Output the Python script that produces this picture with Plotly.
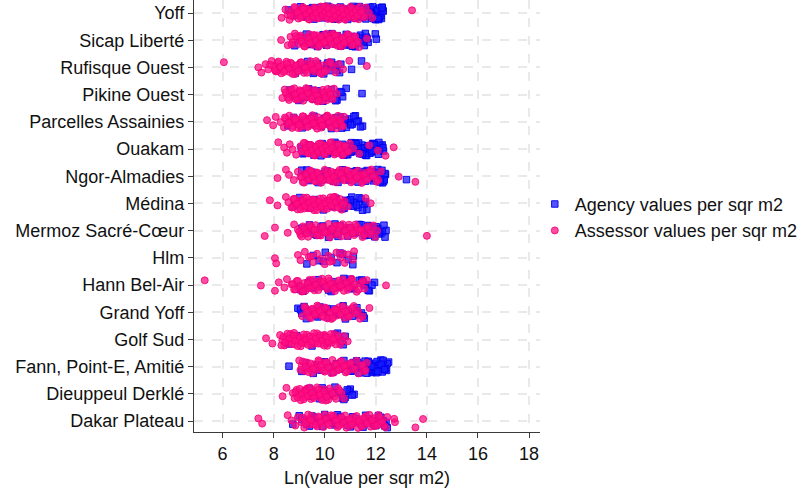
import plotly.graph_objects as go

# Districts, listed from top to bottom of the chart
DISTRICTS = [
    "Yoff", "Sicap Liberté", "Rufisque Ouest", "Pikine Ouest",
    "Parcelles Assainies", "Ouakam", "Ngor-Almadies", "Médina",
    "Mermoz Sacré-Cœur", "Hlm", "Hann Bel-Air", "Grand Yoff",
    "Golf Sud", "Fann, Point-E, Amitié", "Dieuppeul Derklé", "Dakar Plateau",
]

# Ln(value per sqr m2): agency listings and assessor valuations per district
yoff_agency = [8.58, 8.83, 9.05, 9.21, 9.30, 9.42, 9.47, 9.58, 9.63, 9.71, 9.80, 9.86, 9.92, 10.01, 10.07, 10.12,
               10.18, 10.26, 10.31, 10.37, 10.44, 10.49, 10.55, 10.61, 10.66, 10.72, 10.79, 10.83, 10.90, 10.94,
               11.02, 11.08, 11.13, 11.19, 11.24, 11.31, 11.36, 11.42, 11.47, 11.53, 11.58, 11.61, 11.66, 11.72,
               11.77, 11.81, 11.86, 11.90, 11.95, 12.00, 12.04, 12.09, 12.13, 12.18, 12.22, 12.27, 11.69, 11.88,
               12.02, 12.15, 11.55, 10.98, 10.40, 9.95, 9.16, 9.52, 9.76, 10.22, 10.58, 10.87, 11.11, 11.28,
               11.44, 11.63, 11.79, 11.92, 12.06, 12.20, 12.25, 11.74, 11.98, 11.50, 11.84, 12.11, 12.29, 11.97,
               12.24, 11.67, 12.08]
yoff_assessor = [8.31, 8.46, 8.55, 8.62, 8.70, 8.77, 8.84, 8.90, 8.97, 9.03, 9.08, 9.14, 9.19, 9.25, 9.31, 9.36,
                 9.41, 9.47, 9.52, 9.58, 9.63, 9.68, 9.74, 9.79, 9.85, 9.90, 9.95, 10.01, 10.06, 10.12, 10.17,
                 10.22, 10.28, 10.33, 10.39, 10.44, 10.50, 10.55, 10.61, 10.66, 10.72, 10.78, 10.83, 10.89, 10.95,
                 11.01, 11.07, 11.13, 11.19, 11.26, 11.33, 11.41, 11.50, 11.61, 11.73, 11.86, 9.35, 9.72, 10.05,
                 10.48, 10.86, 9.12, 9.88, 10.25, 13.42, 8.66, 8.81, 8.93, 9.06, 9.17, 9.28, 9.39, 9.44, 9.55,
                 9.61, 9.66, 9.77, 9.83, 9.93, 9.98, 10.03, 10.09, 10.14, 10.20, 10.31, 10.36, 10.42, 10.53,
                 10.58, 10.64, 10.69, 10.75, 10.81, 10.92, 10.98, 11.04, 11.10, 11.16, 11.22, 11.29, 11.37,
                 11.45, 11.55]

sicap_agency = [8.82, 9.01, 9.15, 9.28, 9.37, 9.46, 9.55, 9.63, 9.71, 9.78, 9.86, 9.93, 10.00, 10.07, 10.14, 10.21,
                10.28, 10.35, 10.42, 10.49, 10.56, 10.63, 10.70, 10.77, 10.84, 10.91, 10.98, 11.05, 11.12, 11.19,
                11.26, 11.33, 11.40, 11.47, 11.55, 11.63, 11.70, 11.98, 12.02, 9.42, 10.18, 10.66, 11.08, 11.36,
                9.60, 9.97, 10.39, 10.80, 11.23, 11.51, 11.59, 11.66]
sicap_assessor = [8.29, 8.55, 8.66, 8.74, 8.83, 8.91, 8.98, 9.05, 9.12, 9.19, 9.26, 9.33, 9.40, 9.47, 9.54, 9.61,
                  9.68, 9.75, 9.82, 9.89, 9.96, 10.03, 10.10, 10.17, 10.24, 10.31, 10.38, 10.45, 10.52, 10.59,
                  10.66, 10.73, 10.80, 10.88, 10.96, 11.05, 11.14, 11.24, 11.35, 11.65, 9.30, 9.71, 10.12, 10.50,
                  9.02, 9.93, 10.34, 10.84, 8.70, 8.87, 9.09, 9.22, 9.37, 9.44, 9.58, 9.65, 9.79, 9.85, 9.99,
                  10.07, 10.20, 10.28, 10.41, 10.48, 10.62, 10.70, 10.77, 10.92, 11.00, 11.10, 11.19, 11.30]

rufisque_agency = [8.62, 8.85, 9.04, 9.18, 9.33, 9.47, 9.60, 9.72, 9.85, 9.96, 10.08, 10.20, 10.27, 10.41, 10.58,
                   10.63, 11.05, 11.44, 9.25, 9.90, 10.12, 8.95, 9.55, 10.35, 10.48]
rufisque_assessor = [6.05, 7.40, 7.52, 7.68, 7.79, 7.92, 8.01, 8.08, 8.15, 8.22, 8.30, 8.36, 8.43, 8.50, 8.57, 8.63,
                     8.70, 8.77, 8.84, 8.91, 8.98, 9.05, 9.12, 9.19, 9.27, 9.35, 9.44, 9.52, 9.61, 9.70, 9.79,
                     9.88, 9.97, 10.06, 10.18, 10.31, 10.42, 10.55, 10.72, 10.96, 11.65, 8.12, 8.66, 9.40, 9.83,
                     7.86, 8.05, 8.19, 8.26, 8.40, 8.53, 8.60, 8.74, 8.88, 8.95, 9.09, 9.23, 9.31, 9.48, 9.57,
                     9.66, 9.75, 10.01, 10.24]

pikine_agency = [8.62, 8.81, 8.98, 9.12, 9.25, 9.37, 9.49, 9.60, 9.71, 9.82, 9.93, 10.04, 10.15, 10.26, 10.37,
                 10.48, 10.60, 10.70, 10.84, 11.46, 9.05, 9.55, 10.10, 10.43, 10.66]
pikine_assessor = [8.34, 8.43, 8.52, 8.60, 8.67, 8.74, 8.81, 8.88, 8.95, 9.02, 9.09, 9.16, 9.23, 9.30, 9.37, 9.44,
                   9.51, 9.58, 9.65, 9.72, 9.79, 9.86, 9.93, 10.00, 10.08, 10.17, 10.26, 10.36, 10.47, 8.85, 9.20,
                   9.55, 9.90, 8.47, 8.56, 8.70, 8.84, 8.92, 9.05, 9.13, 9.27, 9.34, 9.48, 9.62, 9.69, 9.76, 9.96,
                   10.04, 10.12, 10.22, 10.31]

parcelles_agency = [8.55, 8.78, 8.96, 9.12, 9.28, 9.43, 9.58, 9.72, 9.86, 10.00, 10.13, 10.26, 10.39, 10.50, 10.62,
                    10.73, 10.85, 10.96, 11.08, 11.20, 11.32, 11.48, 10.45, 10.92, 10.67, 10.80, 11.02, 11.14,
                    11.26, 11.40]
parcelles_assessor = [7.74, 7.98, 8.08, 8.27, 8.40, 8.47, 8.54, 8.61, 8.68, 8.75, 8.82, 8.89, 8.96, 9.03, 9.10,
                      9.17, 9.24, 9.31, 9.38, 9.45, 9.52, 9.59, 9.66, 9.73, 9.80, 9.87, 9.94, 10.01, 10.08, 10.15,
                      10.22, 10.30, 10.38, 10.47, 10.56, 10.66, 10.76, 8.70, 9.05, 9.40, 9.75, 10.10, 8.88, 9.62,
                      8.44, 8.58, 8.72, 8.85, 8.99, 9.13, 9.27, 9.35, 9.49, 9.56, 9.70, 9.84, 9.91, 10.05, 10.19,
                      10.26, 10.34, 10.43, 10.52, 10.61, 10.71]

ouakam_agency = [9.08, 9.22, 9.35, 9.47, 9.58, 9.69, 9.80, 9.90, 10.00, 10.10, 10.20, 10.30, 10.40, 10.50, 10.60,
                 10.70, 10.80, 10.90, 11.00, 11.10, 11.19, 11.28, 11.37, 11.46, 11.55, 11.64, 11.73, 11.82, 11.91,
                 12.00, 12.10, 12.20, 12.30, 11.05, 11.42, 11.68, 11.95, 12.15, 10.75, 11.25, 11.58, 11.88, 12.05,
                 9.15, 9.41, 9.63, 9.85, 10.05, 10.25, 10.45, 10.65, 10.85, 10.95, 11.14, 11.33, 11.51, 11.77,
                 12.25, 11.99, 11.60, 11.15, 11.02, 11.22, 11.31, 11.48, 11.70, 11.86, 12.12, 12.28, 11.38, 11.93]
ouakam_assessor = [8.18, 8.41, 8.52, 8.63, 8.74, 8.88, 9.05, 9.14, 9.22, 9.30, 9.38, 9.46, 9.54, 9.62, 9.70, 9.78,
                   9.86, 9.94, 10.02, 10.10, 10.18, 10.26, 10.34, 10.42, 10.50, 10.58, 10.67, 10.76, 10.86, 10.98,
                   11.12, 11.35, 11.74, 12.08, 12.38, 12.70, 9.40, 9.75, 10.05, 10.38, 10.70, 9.10, 9.18, 9.26,
                   9.34, 9.42, 9.50, 9.58, 9.66, 9.74, 9.82, 9.90, 9.98, 10.06, 10.14, 10.22, 10.30, 10.46, 10.54,
                   10.62, 10.72, 10.81, 10.92]

ngor_agency = [9.10, 9.24, 9.37, 9.50, 9.62, 9.74, 9.86, 9.98, 10.10, 10.22, 10.34, 10.46, 10.58, 10.70, 10.82,
               10.94, 11.06, 11.18, 11.30, 11.42, 11.54, 11.66, 11.78, 11.90, 12.02, 12.14, 12.26, 12.38, 13.20,
               11.85, 12.10, 12.30, 11.45, 10.60, 9.30, 9.56, 9.80, 10.04, 10.28, 10.52, 10.76, 11.00, 11.24,
               11.36, 11.60, 11.72, 11.96, 12.08, 12.20, 12.33, 11.50, 11.81, 12.17, 12.36, 11.93, 12.24]
ngor_assessor = [8.15, 8.48, 8.60, 8.79, 8.95, 9.05, 9.14, 9.23, 9.32, 9.41, 9.50, 9.59, 9.68, 9.77, 9.86, 9.95,
                 10.04, 10.13, 10.22, 10.31, 10.40, 10.49, 10.58, 10.67, 10.76, 10.85, 10.94, 11.03, 11.12, 11.21,
                 11.30, 11.40, 11.50, 11.60, 11.71, 11.83, 11.96, 12.10, 12.20, 12.90, 13.55, 9.60, 10.20, 10.80,
                 11.35, 9.90, 10.52, 9.10, 9.19, 9.28, 9.37, 9.46, 9.55, 9.64, 9.73, 9.82, 10.00, 10.09, 10.17,
                 10.27, 10.36, 10.45, 10.63, 10.72, 10.90, 10.99, 11.08, 11.17, 11.26, 11.45, 11.55, 11.66,
                 11.77, 11.90, 12.03]

medina_agency = [8.80, 9.02, 9.22, 9.42, 9.60, 9.78, 9.95, 10.12, 10.28, 10.44, 10.58, 10.70, 10.82, 10.94, 11.06,
                 11.18, 11.30, 11.42, 11.55, 11.65, 10.88, 11.12, 11.35, 10.64, 10.76, 11.00, 11.24, 11.48, 11.60]
medina_assessor = [7.85, 8.15, 8.48, 8.58, 8.70, 8.78, 8.86, 8.94, 9.02, 9.10, 9.18, 9.26, 9.34, 9.42, 9.50, 9.58,
                   9.66, 9.74, 9.82, 9.90, 9.98, 10.06, 10.14, 10.22, 10.30, 10.38, 10.47, 10.56, 10.66, 10.78,
                   10.90, 11.60, 11.80, 9.20, 9.60, 10.00, 10.40, 8.98, 8.74, 8.82, 8.90, 9.06, 9.14, 9.22, 9.30,
                   9.38, 9.46, 9.54, 9.62, 9.70, 9.78, 9.86, 9.94, 10.02, 10.10, 10.18, 10.26, 10.34, 10.43,
                   10.52, 10.61, 10.72]

mermoz_agency = [9.10, 9.25, 9.40, 9.55, 9.70, 9.85, 10.00, 10.15, 10.30, 10.45, 10.60, 10.75, 10.90, 11.05, 11.20,
                 11.35, 11.48, 11.60, 11.72, 11.84, 11.96, 12.08, 12.20, 12.32, 12.40, 11.55, 11.90, 12.15, 10.40,
                 9.32, 9.62, 9.92, 10.22, 10.52, 10.82, 11.12, 11.42, 11.66, 11.78, 12.02, 12.26, 12.36, 11.95,
                 12.12, 11.70]
mermoz_assessor = [7.65, 8.05, 8.55, 8.80, 8.95, 9.05, 9.15, 9.25, 9.35, 9.45, 9.55, 9.65, 9.75, 9.85, 9.95, 10.05,
                   10.15, 10.25, 10.35, 10.45, 10.55, 10.65, 10.75, 10.85, 10.95, 11.05, 11.15, 11.25, 11.36,
                   11.48, 11.60, 11.75, 11.90, 12.05, 14.00, 9.50, 10.10, 10.70, 11.30, 9.80, 10.40, 9.00, 9.10,
                   9.20, 9.30, 9.40, 9.60, 9.70, 9.90, 10.00, 10.20, 10.30, 10.50, 10.60, 10.80, 10.90, 11.00,
                   11.10, 11.20, 11.42, 11.54, 11.68, 11.82, 11.97]

hlm_agency = [9.30, 9.55, 9.78, 10.02, 10.25, 10.48, 10.70, 10.92, 11.10, 11.12, 9.95, 10.60]
hlm_assessor = [8.05, 8.10, 8.95, 9.05, 9.22, 9.38, 9.55, 9.70, 9.86, 10.00, 10.14, 10.30, 10.46, 10.62, 10.78,
                10.92, 11.10, 11.15, 9.45, 10.20, 10.70]

hann_agency = [8.95, 9.15, 9.35, 9.55, 9.75, 9.95, 10.15, 10.35, 10.55, 10.75, 10.95, 11.15, 11.35, 11.55, 11.75,
               11.95, 10.40, 11.00, 11.60, 9.05, 9.45, 9.85, 10.25, 10.65, 11.05, 11.45, 11.85, 11.70, 11.50]
hann_assessor = [5.30, 7.50, 8.05, 8.20, 8.42, 8.52, 8.70, 8.80, 8.90, 9.00, 9.10, 9.20, 9.30, 9.40, 9.50, 9.60,
                 9.70, 9.80, 9.90, 10.00, 10.10, 10.20, 10.30, 10.40, 10.50, 10.60, 10.70, 10.80, 10.90, 11.00,
                 11.12, 11.25, 11.40, 11.55, 11.65, 12.40, 9.25, 9.85, 10.45, 11.05, 8.75, 8.85, 8.95, 9.05,
                 9.15, 9.35, 9.45, 9.55, 9.65, 9.75, 9.95, 10.05, 10.15, 10.25, 10.35, 10.55, 10.65, 10.75,
                 10.85, 10.95, 11.06, 11.18, 11.32, 11.48]

grandyoff_agency = [8.95, 9.10, 9.28, 9.46, 9.64, 9.82, 10.00, 10.18, 10.36, 10.54, 10.72, 10.90, 11.08, 11.26,
                    11.44, 11.55, 9.05, 11.35, 9.19, 9.37, 9.73, 10.09, 10.45, 10.81, 11.17, 11.50]
grandyoff_assessor = [9.12, 9.25, 9.36, 9.46, 9.56, 9.66, 9.76, 9.86, 9.96, 10.06, 10.16, 10.26, 10.36, 10.46,
                      10.56, 10.66, 10.77, 10.88, 11.00, 11.14, 11.30, 11.48, 11.75, 9.70, 10.10, 10.50, 10.90,
                      9.20, 9.30, 9.41, 9.51, 9.61, 9.71, 9.81, 9.91, 10.01, 10.21, 10.31, 10.41, 10.61, 10.71,
                      10.83, 10.95, 11.07, 11.22, 11.38]

golfsud_agency = [8.60, 8.90, 9.20, 9.50, 9.80, 10.10, 10.40, 10.58, 10.72, 10.80, 10.65, 10.50]
golfsud_assessor = [7.70, 7.95, 8.25, 8.34, 8.42, 8.50, 8.58, 8.66, 8.74, 8.82, 8.90, 8.98, 9.06, 9.14, 9.22, 9.30,
                    9.38, 9.46, 9.54, 9.62, 9.70, 9.78, 9.86, 9.94, 10.02, 10.10, 10.19, 10.28, 10.38, 10.48,
                    10.60, 10.75, 10.90, 8.80, 9.20, 9.60, 10.00, 10.40, 8.30, 8.38, 8.46, 8.54, 8.62, 8.70, 8.78,
                    8.86, 8.94, 9.02, 9.10, 9.18, 9.26, 9.34, 9.42, 9.50, 9.58, 9.66, 9.74, 9.82, 9.90, 9.98,
                    10.06, 10.14, 10.24, 10.33, 10.43, 10.54, 10.68]

fann_agency = [8.60, 9.10, 9.25, 9.40, 9.55, 9.70, 9.85, 10.00, 10.15, 10.30, 10.45, 10.60, 10.75, 10.88, 11.00,
               11.12, 11.24, 11.36, 11.48, 11.60, 11.70, 11.80, 11.90, 12.00, 12.10, 12.20, 12.30, 12.42, 12.50,
               11.55, 11.85, 12.15, 12.35, 11.25, 11.95, 11.05, 11.30, 11.42, 11.65, 11.75, 11.88, 12.05, 12.18,
               12.25, 12.45, 12.38, 12.28, 12.12, 11.98, 11.72, 11.92, 12.02, 12.22, 12.33, 11.58, 11.83, 12.08]
fann_assessor = [9.00, 9.10, 9.20, 9.30, 9.40, 9.50, 9.60, 9.70, 9.80, 9.90, 10.00, 10.10, 10.20, 10.30, 10.40,
                 10.50, 10.60, 10.70, 10.82, 10.95, 11.10, 11.25, 11.40, 11.55, 11.65, 9.65, 10.25, 10.85, 9.05,
                 9.15, 9.25, 9.35, 9.45, 9.55, 9.75, 9.85, 9.95, 10.05, 10.15, 10.35, 10.45, 10.55, 10.65, 10.76,
                 10.88, 11.02, 11.17, 11.32, 11.48, 11.60]

dieuppeul_agency = [9.40, 9.60, 9.80, 10.00, 10.20, 10.40, 10.60, 10.80, 11.00, 11.15, 10.75, 10.95, 9.50, 9.90,
                    10.30, 10.70, 10.88, 11.08]
dieuppeul_assessor = [8.35, 8.50, 8.75, 8.82, 8.90, 8.98, 9.06, 9.14, 9.22, 9.30, 9.38, 9.46, 9.54, 9.62, 9.70,
                      9.78, 9.86, 9.95, 10.04, 10.14, 10.25, 10.38, 10.52, 10.66, 10.75, 9.25, 9.65, 10.05, 8.86,
                      8.94, 9.02, 9.10, 9.18, 9.26, 9.34, 9.42, 9.50, 9.58, 9.74, 9.82, 9.90, 9.99, 10.09, 10.19,
                      10.31, 10.44, 10.58]

plateau_agency = [8.75, 9.00, 9.20, 9.40, 9.60, 9.80, 10.00, 10.20, 10.40, 10.60, 10.80, 11.00, 11.20, 11.40, 11.60,
                  11.80, 12.00, 12.20, 12.40, 12.45, 9.10, 9.30, 9.50, 9.70, 9.90, 10.10, 10.30, 10.50, 10.70,
                  10.90, 11.10, 11.30, 11.50, 11.70, 11.90, 12.10, 12.30, 12.35]
plateau_assessor = [7.40, 7.55, 8.55, 8.70, 8.85, 8.95, 9.10, 9.20, 9.30, 9.40, 9.50, 9.60, 9.70, 9.80, 9.90,
                    10.00, 10.10, 10.20, 10.30, 10.40, 10.50, 10.60, 10.70, 10.80, 10.90, 11.00, 11.10, 11.20,
                    11.30, 11.40, 11.50, 11.60, 11.70, 11.80, 11.90, 12.00, 12.10, 12.20, 12.30, 12.45, 12.75,
                    13.55, 13.85, 9.55, 10.35, 11.15, 11.95, 9.15, 9.25, 9.35, 9.45, 9.65, 9.75, 9.85, 9.95, 10.05,
                    10.15, 10.25, 10.45, 10.55, 10.65, 10.75, 10.85, 10.95, 11.05, 11.25, 11.35, 11.45, 11.55,
                    11.65, 11.75, 11.85, 12.05, 12.15, 12.25, 12.38, 12.72]

AGENCY = [yoff_agency, sicap_agency, rufisque_agency, pikine_agency, parcelles_agency, ouakam_agency,
          ngor_agency, medina_agency, mermoz_agency, hlm_agency, hann_agency, grandyoff_agency,
          golfsud_agency, fann_agency, dieuppeul_agency, plateau_agency]
ASSESSOR = [yoff_assessor, sicap_assessor, rufisque_assessor, pikine_assessor, parcelles_assessor,
            ouakam_assessor, ngor_assessor, medina_assessor, mermoz_assessor, hlm_assessor, hann_assessor,
            grandyoff_assessor, golfsud_assessor, fann_assessor, dieuppeul_assessor, plateau_assessor]

X_TICKS = [6, 8, 10, 12, 14, 16, 18]

FONT = "Liberation Sans, Arial, Helvetica, sans-serif"
FS = 18
N = len(DISTRICTS)
JITTER = 0.25


def spread(n, phase):
    # evenly scattered vertical offsets so overlapping observations stay visible
    return [(((i + 1) * 0.6180339887 + phase) % 1.0 - 0.5) * 2 * JITTER for i in range(n)]


def strip(groups, phase):
    xs, ys = [], []
    for k, vals in enumerate(groups):
        base = N - k
        offs = spread(len(vals), phase + 0.37 * k)
        xs.extend(vals)
        ys.extend(base + o for o in offs)
    return xs, ys


ax, ay = strip(AGENCY, 0.11)
sx, sy = strip(ASSESSOR, 0.53)

fig = go.Figure()
fig.add_trace(go.Scatter(
    x=ax, y=ay, mode="markers", name="Agency values per sqr m2",
    marker=dict(symbol="square", size=6.5, color="rgba(25,25,255,0.75)",
                line=dict(color="rgba(0,0,235,0.9)", width=1)),
))
fig.add_trace(go.Scatter(
    x=sx, y=sy, mode="markers", name="Assessor values per sqr m2",
    marker=dict(symbol="circle", size=7, color="rgba(255,15,130,0.74)",
                line=dict(color="rgba(245,0,120,0.85)", width=1)),
))

axis_common = dict(
    showline=True, linecolor="#3a3a3a", linewidth=1.2,
    ticks="outside", ticklen=5, tickcolor="#3a3a3a", tickwidth=1.2,
    showgrid=True, gridcolor="#e9e9e9", gridwidth=1.5, griddash="dash",
    zeroline=False, tickfont=dict(family=FONT, size=FS, color="#111"),
)

fig.update_layout(
    width=803, height=490,
    margin=dict(l=194, r=258, t=0, b=58),
    paper_bgcolor="white", plot_bgcolor="white",
    font=dict(family=FONT, size=FS, color="#111"),
    xaxis=dict(range=[4.88, 18.43], tickvals=X_TICKS, ticktext=[str(t) for t in X_TICKS],
               title=dict(text="Ln(value per sqr m2)", font=dict(family=FONT, size=FS), standoff=8),
               **axis_common),
    yaxis=dict(range=[0.6, N + 0.48], tickvals=[N - k for k in range(N)], ticktext=DISTRICTS,
               **axis_common),
    legend=dict(x=0.985, y=0.497, xanchor="left", yanchor="middle",
                font=dict(family=FONT, size=FS, color="#111"),
                itemwidth=30, tracegroupgap=0, bgcolor="rgba(0,0,0,0)"),
    showlegend=True,
)

fig.write_html("out.html")
